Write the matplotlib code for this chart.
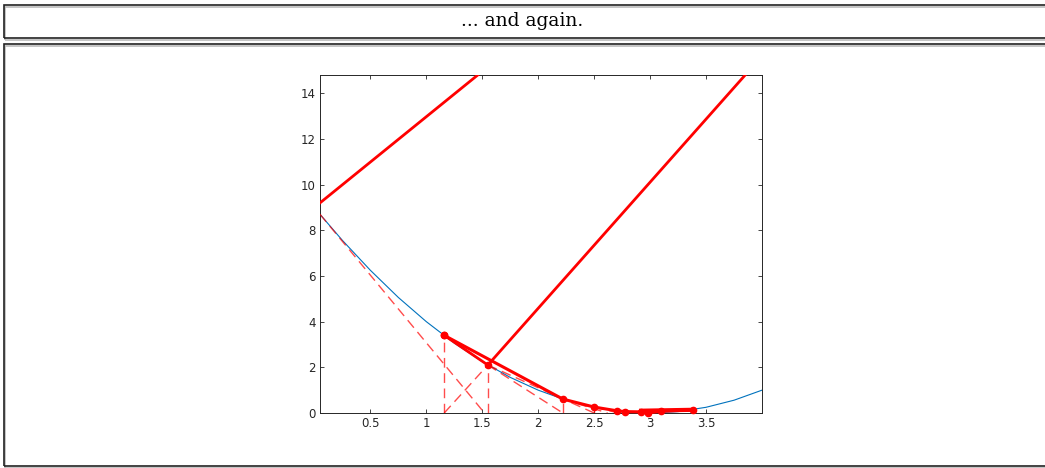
import matplotlib
matplotlib.use("Agg")
import matplotlib.pyplot as plt
from matplotlib.patches import Rectangle

# --- data ---
title_text = "... and again."

curve_x = [0.05, 0.25, 0.5, 0.75, 1.0, 1.25, 1.5, 1.75, 2.0, 2.25, 2.5, 2.75,
           3.0, 3.25, 3.5, 3.75, 4.0]
curve_y = [8.70, 7.56, 6.25, 5.06, 4.00, 3.06, 2.25, 1.56, 1.00, 0.56, 0.25, 0.06,
           0.00, 0.06, 0.25, 0.56, 1.00]

# thick red lines leaving the plot at the top
cut_a_x = [0.05, 1.46]
cut_a_y = [9.2, 14.8]
cut_b_x = [1.55, 3.85]
cut_b_y = [2.1, 14.8]

# iterates (thick path with markers)
iter_x = [1.16, 2.22, 2.50, 2.70, 2.78, 2.92, 2.98, 3.10, 3.38]
iter_y = [3.40, 0.61, 0.26, 0.10, 0.06, 0.05, 0.00, 0.08, 0.14]
step_x = [1.16, 1.55]
step_y = [3.40, 2.10]
flat_x = [2.92, 3.38]
flat_y = [0.10, 0.14]

# dashed construction lines: (x0, x1), (y0, y1)
dash_segments = [
    ((0.05, 1.52), (8.70, 0.0)),
    ((1.16, 1.16), (0.0, 3.40)),
    ((1.55, 1.55), (0.0, 2.10)),
    ((1.16, 1.55), (0.0, 2.10)),
    ((1.55, 2.22), (2.10, 0.0)),
    ((1.55, 2.50), (2.10, 0.0)),
    ((2.22, 2.22), (0.0, 0.61)),
    ((2.50, 2.50), (0.0, 0.26)),
    ((2.22, 2.62), (0.61, 0.0)),
    ((2.50, 2.72), (0.26, 0.0)),
]

x_ticks = [0.5, 1, 1.5, 2, 2.5, 3, 3.5]
y_ticks = [0, 2, 4, 6, 8, 10, 12, 14]

fig = plt.figure(figsize=(10.45, 4.68), dpi=100)

# slide frames
W, H = 1045.0, 468.0
def frame(x0, y0, x1, y1):
    fig.patches.append(Rectangle((x0 / W + 1 / W, 1 - y1 / H - 1.5 / H), (x1 - x0) / W, (y1 - y0) / H,
                                 transform=fig.transFigure, fill=False, ec="#bbbbbb", lw=1.2))
    fig.patches.append(Rectangle((x0 / W, 1 - y1 / H), (x1 - x0) / W, (y1 - y0) / H,
                                 transform=fig.transFigure, fill=False, ec="#222222", lw=1.2))

frame(4, 5, 1050, 38)
frame(4, 44, 1050, 466)
fig.text(0.5, 1 - 21 / H, title_text, ha="center", va="center",
         family="DejaVu Serif", fontsize=13.5, color="black")

ax = fig.add_axes([320 / W, 1 - 413 / H, 442 / W, 338 / H])

ax.plot(curve_x, curve_y, color="#0072BD", lw=0.8, zorder=2)

for (xs, ys) in dash_segments:
    ax.plot(xs, ys, color="red", lw=1.0, alpha=0.7, dashes=(7, 4), zorder=3)

ax.plot(cut_a_x, cut_a_y, color="red", lw=2.0, zorder=4)
ax.plot(cut_b_x, cut_b_y, color="red", lw=2.0, zorder=4)
ax.plot(step_x, step_y, color="red", lw=2.0, marker="o", ms=4.5, zorder=5)
ax.plot(iter_x, iter_y, color="red", lw=2.2, marker="o", ms=4.5, zorder=5, clip_on=False)
ax.plot(flat_x, flat_y, color="red", lw=3.0, zorder=5)

ax.set_xlim(0.05, 4.0)
ax.set_ylim(0, 14.8)
ax.set_xticks(x_ticks)
ax.set_xticklabels(["0.5", "1", "1.5", "2", "2.5", "3", "3.5"])
ax.set_yticks(y_ticks)
ax.tick_params(direction="in", top=True, right=True, length=3, width=0.6,
               colors="#262626", labelsize=8.5, pad=3)
for s in ax.spines.values():
    s.set_color("#262626")
    s.set_linewidth(0.7)

fig.savefig("out.png", dpi=100)
